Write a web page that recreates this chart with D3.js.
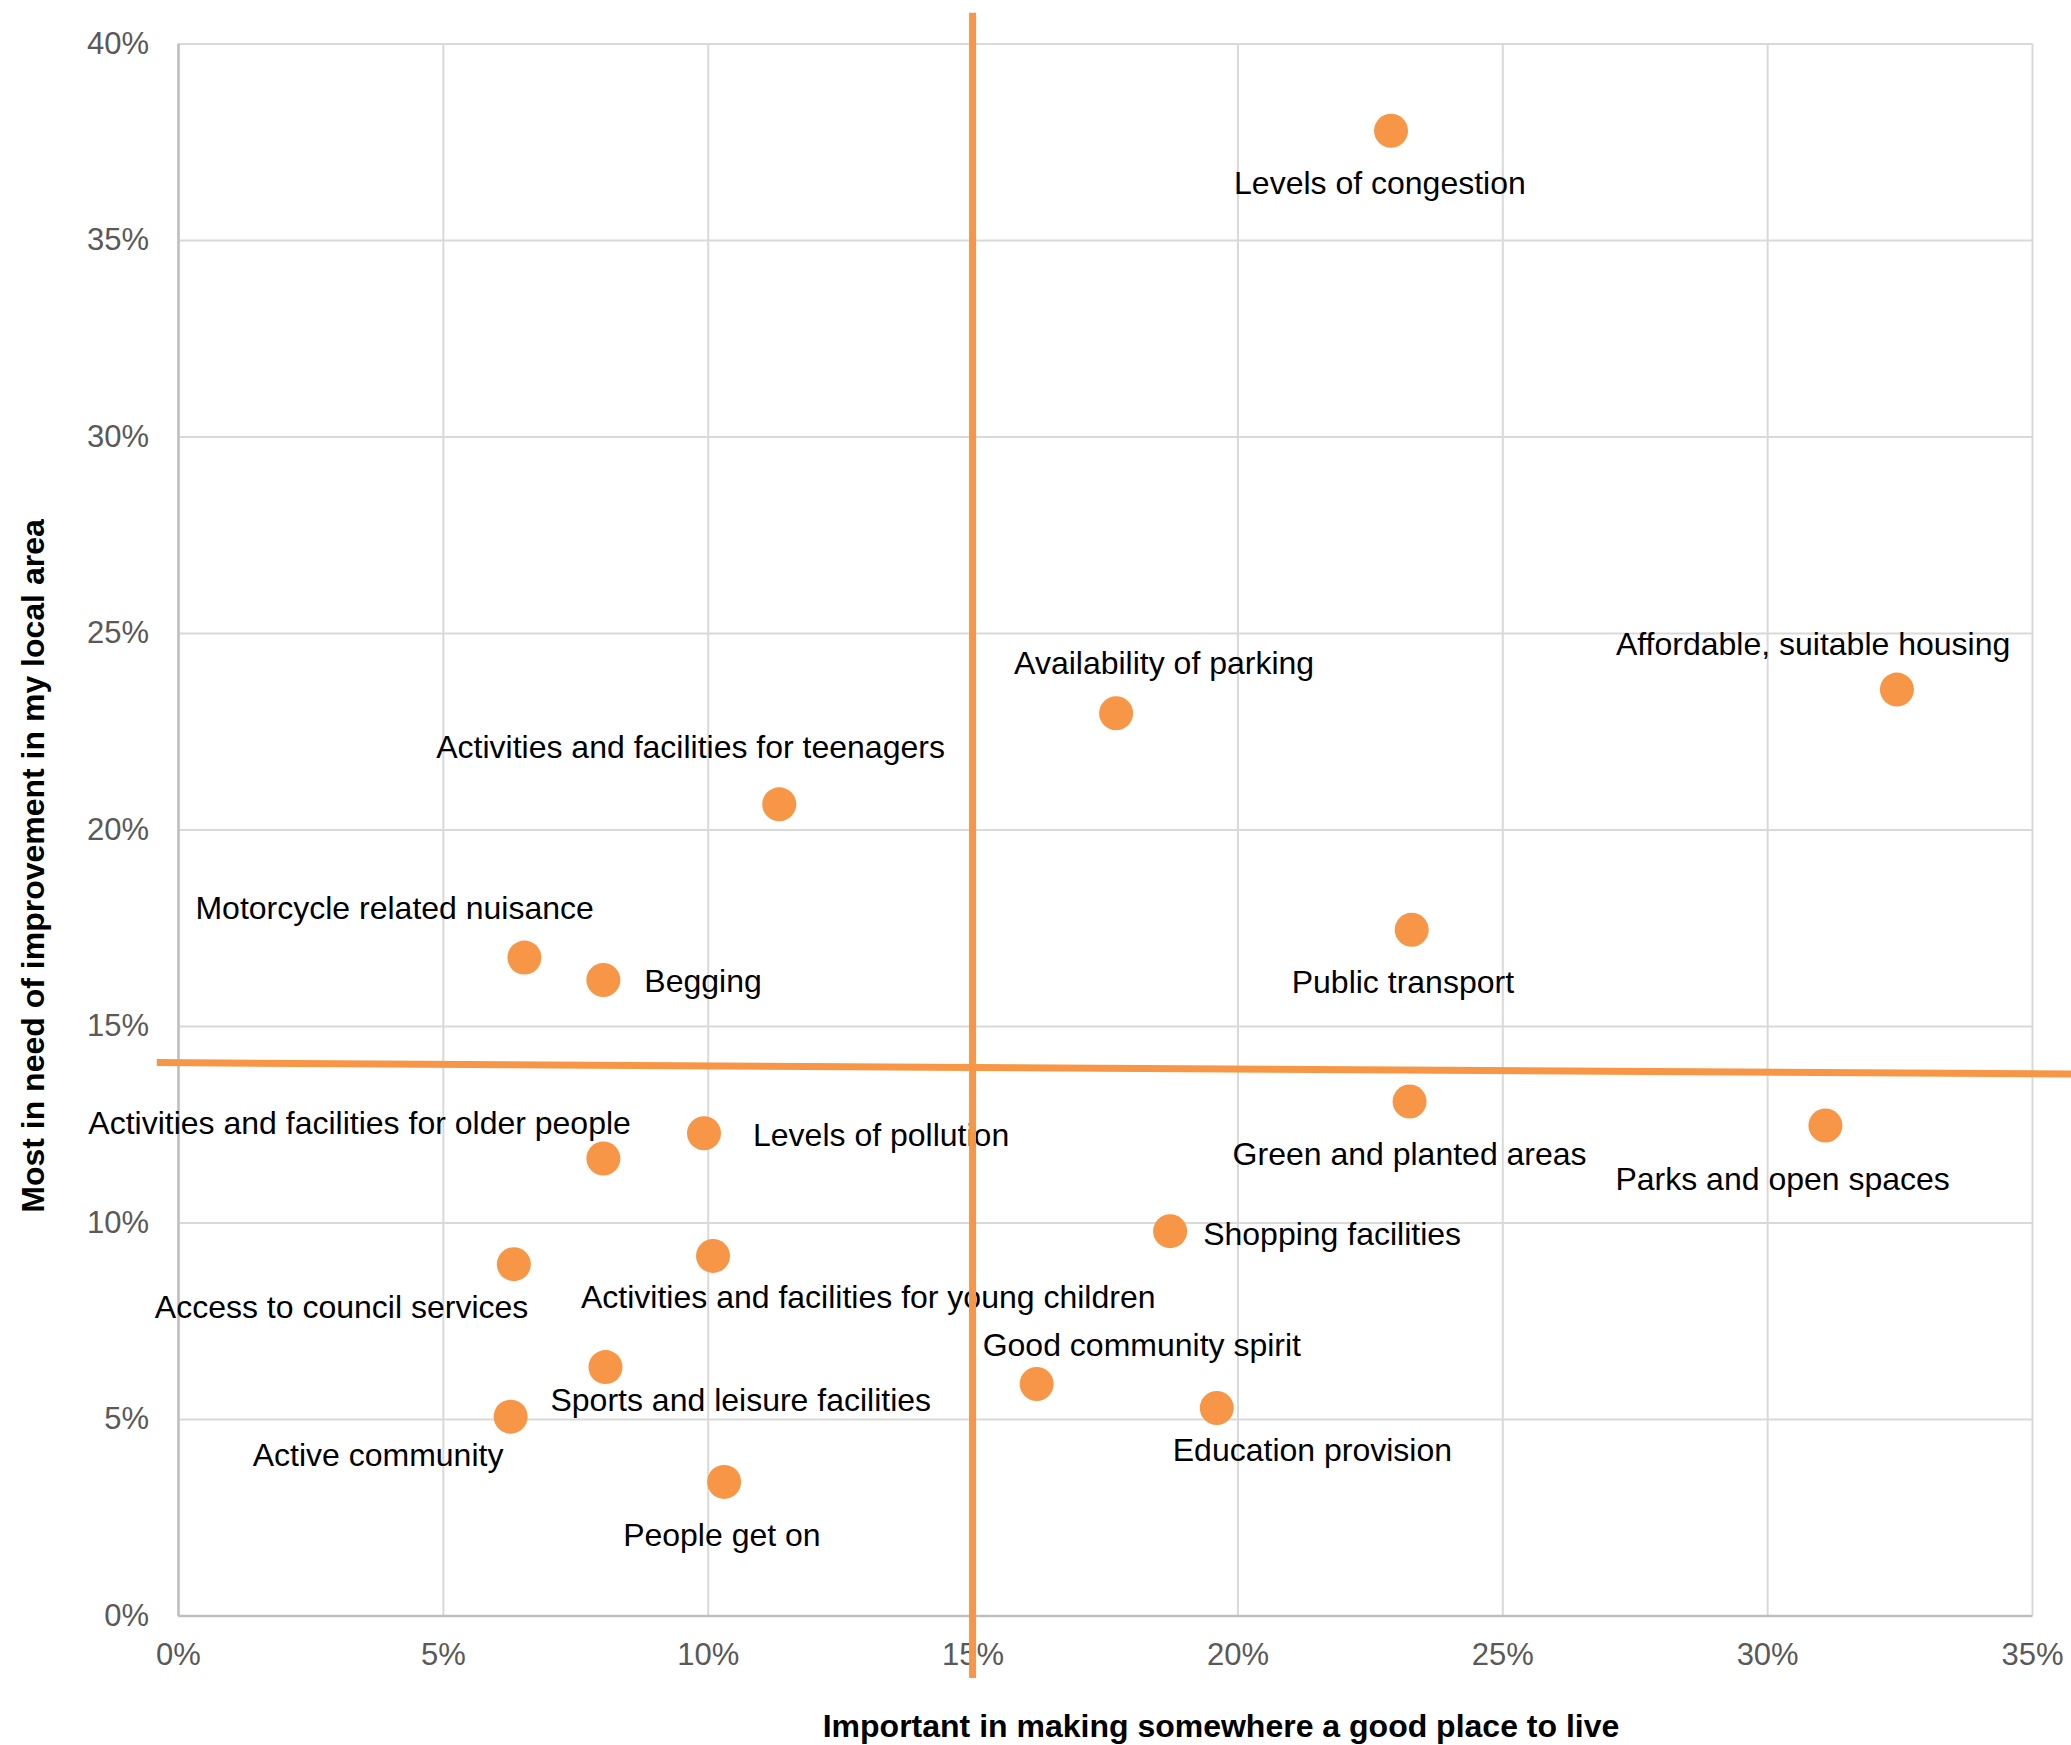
<!DOCTYPE html>
<html>
<head>
<meta charset="utf-8">
<script src="https://cdn.jsdelivr.net/npm/d3@7"></script>
<style>
  html, body { margin: 0; padding: 0; background: #fff; }
  svg { display: block; }
</style>
</head>
<body>
<svg id="chart" width="2071" height="1745"></svg>
<script>
// ---------- DATA ----------
const categories = [
  "Levels of congestion",
  "Affordable, suitable housing",
  "Availability of parking",
  "Activities and facilities for teenagers",
  "Public transport",
  "Motorcycle related nuisance",
  "Begging",
  "Green and planted areas",
  "Parks and open spaces",
  "Levels of pollution",
  "Activities and facilities for older people",
  "Shopping facilities",
  "Activities and facilities for young children",
  "Access to council services",
  "Sports and leisure facilities",
  "Good community spirit",
  "Education provision",
  "Active community",
  "People get on"
];
// Important in making somewhere a good place to live (%)
const importantValues = [22.90, 32.45, 17.71, 11.35, 23.29, 6.54, 8.03, 23.25, 31.10, 9.93, 8.03, 18.73, 10.10, 6.34, 8.07, 16.21, 19.61, 6.28, 10.31];
// Most in need of improvement in my local area (%)
const improvementValues = [37.78, 23.56, 22.96, 20.64, 17.45, 16.74, 16.17, 13.08, 12.47, 12.27, 11.63, 9.78, 9.15, 8.94, 6.32, 5.89, 5.28, 5.06, 3.40];

const xTickValues = [0, 5, 10, 15, 20, 25, 30, 35];
const yTickValues = [0, 5, 10, 15, 20, 25, 30, 35, 40];
const xTickLabels = ["0%", "5%", "10%", "15%", "20%", "25%", "30%", "35%"];
const yTickLabels = ["0%", "5%", "10%", "15%", "20%", "25%", "30%", "35%", "40%"];

// quadrant divider lines (data units)
const verticalDivider = [[15, -1.59], [15, 40.78]];
const horizontalDivider = [[-0.40, 14.07], [36.5, 13.77]];

// ---------- LAYOUT (label offsets from point, px) ----------
const labelOffsets = [
  [-157, 52], [-281, -46], [-102, -51], [-343, -58], [-120, 52],
  [-329, -50], [41, 0], [-177, 52], [-210, 53], [49, 1],
  [-515, -36], [33, 2], [-132, 41], [-359, 42], [-55, 32],
  [-54, -40], [-44, 41], [-258, 38], [-101, 53]
];

// ---------- CHART ----------
const svg = d3.select("#chart");
const W = 2071, H = 1745;
const plot = { left: 178, right: 2032, top: 43.5, bottom: 1615.5 };
const orange = "#F79646";
const font = "'Liberation Sans', Arial, Helvetica, sans-serif";

const x = d3.scaleLinear().domain([0, 35]).range([plot.left, plot.right]);
const y = d3.scaleLinear().domain([0, 40]).range([plot.bottom, plot.top]);

// gridlines
const gx = svg.append("g").attr("transform", `translate(0,${plot.bottom})`)
  .call(d3.axisBottom(x).tickValues(xTickValues).tickSize(-(plot.bottom - plot.top)).tickFormat(""));
gx.select(".domain").remove();
gx.selectAll("line").attr("stroke", "#D9D9D9").attr("stroke-width", 2);

const gy = svg.append("g").attr("transform", `translate(${plot.left},0)`)
  .call(d3.axisLeft(y).tickValues(yTickValues).tickSize(-(plot.right - plot.left)).tickFormat(""));
gy.select(".domain").remove();
gy.selectAll("line").attr("stroke", "#D9D9D9").attr("stroke-width", 2);

// axes
const ax = svg.append("g").attr("transform", `translate(0,${plot.bottom})`)
  .call(d3.axisBottom(x).tickValues(xTickValues).tickSize(0).tickPadding(27)
    .tickFormat((d, i) => xTickLabels[i]));
ax.select(".domain").attr("stroke", "#BFBFBF").attr("stroke-width", 2.5);
ax.selectAll("text").attr("fill", "#595959").style("font-family", font).style("font-size", "31px");

const ay = svg.append("g").attr("transform", `translate(${plot.left},0)`)
  .call(d3.axisLeft(y).tickValues(yTickValues).tickSize(0).tickPadding(29)
    .tickFormat((d, i) => yTickLabels[i]));
ay.select(".domain").attr("stroke", "#BFBFBF").attr("stroke-width", 2.5);
ay.selectAll("text").attr("fill", "#595959").style("font-family", font).style("font-size", "31px");

// axis titles
svg.append("text")
  .attr("x", 1221).attr("y", 1737)
  .attr("text-anchor", "middle")
  .style("font-family", font).style("font-size", "32px").style("font-weight", "bold")
  .attr("fill", "#000")
  .text("Important in making somewhere a good place to live");

svg.append("text")
  .attr("transform", "translate(44,866) rotate(-90)")
  .attr("text-anchor", "middle")
  .style("font-family", font).style("font-size", "32px").style("font-weight", "bold")
  .attr("fill", "#000")
  .text("Most in need of improvement in my local area");

const points = categories.map((c, i) => ({
  name: c, xv: importantValues[i], yv: improvementValues[i], off: labelOffsets[i]
}));

// labels
svg.append("g").selectAll("text").data(points).join("text")
  .attr("x", d => x(d.xv) + d.off[0])
  .attr("y", d => y(d.yv) + d.off[1])
  .attr("dy", "0.36em")
  .style("font-family", font).style("font-size", "32px")
  .attr("fill", "#000")
  .text(d => d.name);

// dots
svg.append("g").selectAll("circle").data(points).join("circle")
  .attr("cx", d => x(d.xv))
  .attr("cy", d => y(d.yv))
  .attr("r", 17)
  .attr("fill", orange);

// divider lines
const line = d3.line().x(d => x(d[0])).y(d => y(d[1]));
svg.append("path").attr("d", line(horizontalDivider))
  .attr("stroke", orange).attr("stroke-width", 7).attr("fill", "none");
svg.append("path").attr("d", line(verticalDivider))
  .attr("stroke", orange).attr("stroke-width", 7).attr("fill", "none");
</script>
</body>
</html>
